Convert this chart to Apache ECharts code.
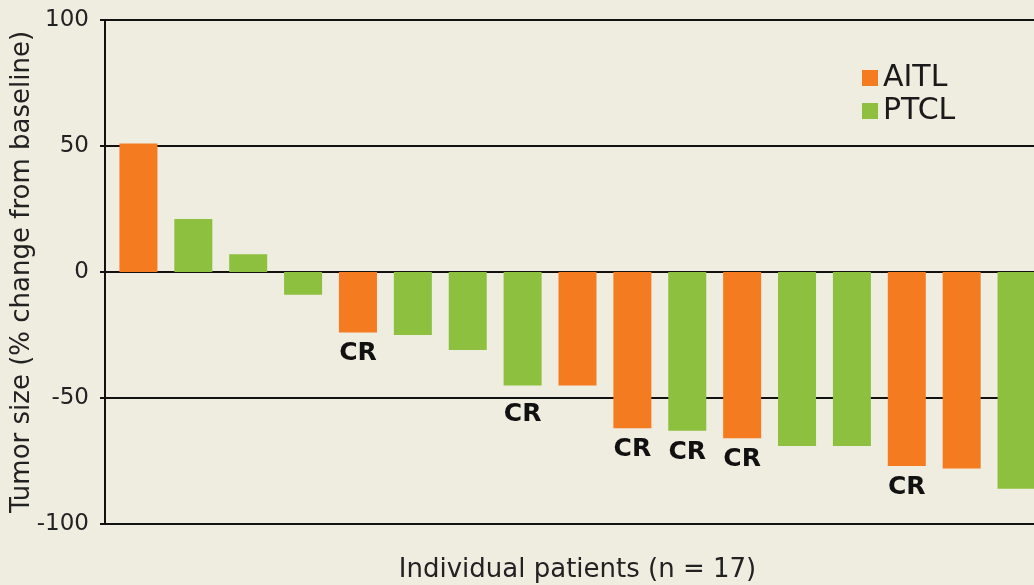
<!DOCTYPE html>
<html>
<head>
<meta charset="utf-8">
<script src="https://cdn.jsdelivr.net/npm/echarts@6/dist/echarts.min.js"></script>
<style>
  html, body { margin: 0; padding: 0; background: #efece0; }
  #chart { width: 1034px; height: 585px; }
</style>
</head>
<body>
<div id="chart"></div>
<script>
// one entry per patient, sorted as in the waterfall
const patients = ['1', '2', '3', '4', '5', '6', '7', '8', '9', '10', '11', '12', '13', '14', '15', '16', '17']
const change = [51, 21, 7, -9, -24, -25, -31, -45, -45, -62, -63, -66, -69, -69, -77, -78, -86]
const subtype = ['AITL', 'PTCL', 'PTCL', 'PTCL', 'AITL', 'PTCL', 'PTCL', 'PTCL', 'AITL', 'AITL', 'PTCL', 'AITL', 'PTCL', 'PTCL', 'AITL', 'AITL', 'PTCL']
const response = ['', '', '', '', 'CR', '', '', 'CR', '', 'CR', 'CR', 'CR', '', '', 'CR', '', '']
const yTicks = { min: -100, max: 100, step: 50 }

const colors = { AITL: '#f47b20', PTCL: '#8dc03f' }

// patient 8's label sits under the -50 line
const labelDistance = (i) => (i === 7 ? 17 : 9)

const seriesData = (type) => change.map((v, i) => {
  if (subtype[i] !== type) return '-'
  const item = { value: v }
  if (response[i]) {
    item.label = {
      show: true,
      formatter: response[i],
      position: 'bottom',
      distance: labelDistance(i)
    }
  }
  return item
})

const chart = echarts.init(document.getElementById('chart'))

const option = {
  backgroundColor: '#efece0',
  animation: false,
  // plot runs past the right edge, the last bar is cut off
  grid: { left: 111, width: 933, top: 20, bottom: 61, outerBoundsMode: 'none', containLabel: false },
  legend: {
    orient: 'vertical',
    left: 857,
    top: 58,
    icon: 'rect',
    itemWidth: 16,
    itemHeight: 16,
    itemGap: 3,
    textStyle: { fontFamily: 'DejaVu Sans', fontSize: 30, color: '#1a1a1a' },
    data: ['AITL', 'PTCL']
  },
  xAxis: {
    type: 'category',
    data: patients,
    name: 'Individual patients (n = 17)',
    nameLocation: 'middle',
    nameGap: 33,
    nameTextStyle: { fontFamily: 'DejaVu Sans', fontSize: 26, color: '#222' },
    axisLine: { lineStyle: { color: '#111', width: 2 } },
    axisTick: { show: false },
    axisLabel: { show: false }
  },
  yAxis: [
    {
      type: 'value',
      min: yTicks.min,
      max: yTicks.max,
      interval: yTicks.step,
      offset: 6,
      name: 'Tumor size (% change from baseline)',
      nameLocation: 'middle',
      nameGap: 70,
      nameMoveOverlap: false,
      nameTextStyle: { fontFamily: 'DejaVu Sans', fontSize: 26, color: '#222' },
      axisLine: { show: true, lineStyle: { color: '#111', width: 2 } },
      axisTick: { show: true, inside: true, length: 6, lineStyle: { color: '#111', width: 2 } },
      axisLabel: { fontFamily: 'DejaVu Sans', fontSize: 23, color: '#222', margin: 16 },
      splitLine: { lineStyle: { color: '#111', width: 2 } }
    },
    {
      type: 'value',
      position: 'left',
      min: yTicks.min,
      max: yTicks.max,
      interval: yTicks.step,
      offset: 6,
      axisLine: { show: false },
      axisTick: { show: true, length: 5, lineStyle: { color: '#111', width: 2 } },
      axisLabel: { show: false },
      splitLine: { show: false }
    }
  ],
  series: ['AITL', 'PTCL'].map((type) => ({
    name: type,
    type: 'bar',
    barWidth: 38,
    barGap: '-100%',
    itemStyle: { color: colors[type] },
    label: {
      fontFamily: 'DejaVu Sans',
      fontWeight: 'bold',
      fontSize: 25,
      color: '#111'
    },
    data: seriesData(type)
  }))
}

chart.setOption(option)
</script>
</body>
</html>
